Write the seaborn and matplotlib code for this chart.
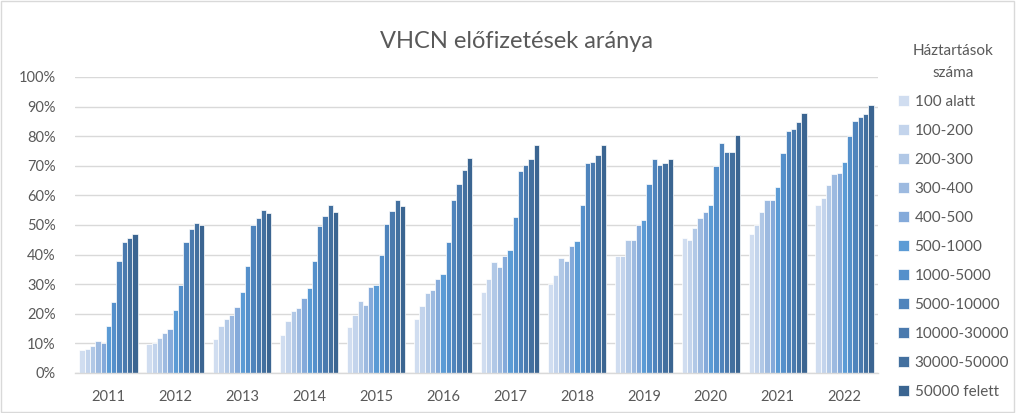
import numpy as np
import pandas as pd
import matplotlib
matplotlib.use("Agg")
import matplotlib.pyplot as plt
import seaborn as sns
from matplotlib.patches import Rectangle
from matplotlib.ticker import PercentFormatter

# Years on the x axis
years = ["2011", "2012", "2013", "2014", "2015", "2016",
         "2017", "2018", "2019", "2020", "2021", "2022"]

# Share of VHCN subscriptions (%) per household-count bucket, one value per year
s_100_alatt = [7.7, 9.7, 11.6, 12.7, 15.7, 18.4, 27.2, 29.9, 39.6, 45.7, 46.8, 56.6]
s_100_200 = [8.2, 10.0, 15.9, 17.5, 19.6, 22.7, 31.8, 33.1, 39.4, 44.8, 49.9, 59.2]
s_200_300 = [9.1, 11.9, 18.3, 21.1, 24.4, 27.1, 37.6, 39.0, 45.1, 49.0, 54.4, 63.6]
s_300_400 = [10.8, 13.4, 19.5, 21.9, 23.1, 27.9, 35.9, 38.0, 45.1, 52.5, 58.4, 67.3]
s_400_500 = [10.2, 14.7, 22.3, 25.3, 29.2, 31.9, 39.4, 42.9, 49.9, 54.3, 58.5, 67.5]
s_500_1000 = [15.9, 21.3, 27.2, 28.8, 29.8, 33.3, 41.6, 44.5, 51.6, 56.8, 62.9, 71.3]
s_1000_5000 = [24.0, 29.7, 36.3, 38.0, 39.8, 44.1, 52.8, 56.6, 63.8, 69.9, 74.4, 79.9]
s_5000_10000 = [37.7, 44.1, 50.1, 49.8, 50.3, 58.3, 68.3, 70.9, 72.2, 77.7, 81.8, 85.0]
s_10000_30000 = [44.2, 48.5, 52.3, 52.9, 54.6, 63.9, 70.2, 71.3, 70.3, 74.7, 82.5, 86.4]
s_30000_50000 = [45.7, 50.6, 55.0, 56.8, 58.5, 68.5, 72.3, 73.5, 71.1, 74.7, 84.8, 87.5]
s_50000_felett = [47.0, 49.9, 54.1, 54.3, 56.4, 72.8, 76.9, 76.9, 72.4, 80.4, 88.0, 90.6]

categories = ["100 alatt", "100-200", "200-300", "300-400", "400-500", "500-1000",
              "1000-5000", "5000-10000", "10000-30000", "30000-50000", "50000 felett"]
series = [s_100_alatt, s_100_200, s_200_300, s_300_400, s_400_500, s_500_1000,
          s_1000_5000, s_5000_10000, s_10000_30000, s_30000_50000, s_50000_felett]

colors = ["#D0DDF0", "#C3D4EC", "#B1C8E6", "#9DBAE0", "#84AADA", "#5B9BD5",
          "#5590CB", "#4F84BC", "#4A7AAE", "#43709F", "#3B6591"]

rows = []
for cat, vals in zip(categories, series):
    for yr, v in zip(years, vals):
        rows.append({"year": yr, "category": cat, "value": v})
df = pd.DataFrame(rows)

sns.set_theme(style="white")
plt.rcParams["font.family"] = ["Lato", "DejaVu Sans"]
text_color = "#595959"

fig = plt.figure(figsize=(10.16, 4.13), dpi=100)
ax = fig.add_axes([75 / 1016, 1 - 373 / 413, (878 - 75) / 1016, (373 - 77) / 413])

sns.barplot(data=df, x="year", y="value", hue="category", hue_order=categories,
            order=years, palette=colors, width=0.87, edgecolor="white",
            linewidth=0.5, saturation=1, ax=ax, legend=True)

ax.set_ylim(0, 100)
ax.set_yticks(np.arange(0, 101, 10))
ax.yaxis.set_major_formatter(PercentFormatter(decimals=0))
ax.grid(axis="y", color="#D9D9D9", linewidth=1)
ax.set_axisbelow(True)
for side in ["left", "right", "top"]:
    ax.spines[side].set_visible(False)
ax.spines["bottom"].set_color("#D9D9D9")
ax.spines["bottom"].set_linewidth(1)
ax.tick_params(axis="both", length=0, labelsize=10.5, colors=text_color)
ax.tick_params(axis="x", pad=12)
ax.tick_params(axis="y", pad=14)
ax.set_xlabel("")
ax.set_ylabel("")

fig.text(517 / 1016, 1 - 42 / 413, "VHCN előfizetések aránya", ha="center", va="center",
         fontsize=17, color=text_color)

handles, labels = ax.get_legend_handles_labels()
ax.get_legend().remove()
leg = fig.legend(handles, labels, title="Háztartások\nszáma", loc="upper left",
                 bbox_to_anchor=(884 / 1016, 1 - 30 / 413), frameon=False,
                 fontsize=11, title_fontsize=11, handlelength=0.75, handleheight=0.75,
                 handletextpad=0.35, labelspacing=0.98)
leg.get_title().set_color(text_color)
leg.get_title().set_multialignment("center")
leg.get_title().set_linespacing(1.75)
for t in leg.get_texts():
    t.set_color(text_color)

# thin border round the whole chart
fig.patches.append(Rectangle((0.001, 0.002), 0.997, 0.995, transform=fig.transFigure,
                             fill=False, edgecolor="#D9D9D9", linewidth=1))

fig.savefig("out.png", dpi=100)
